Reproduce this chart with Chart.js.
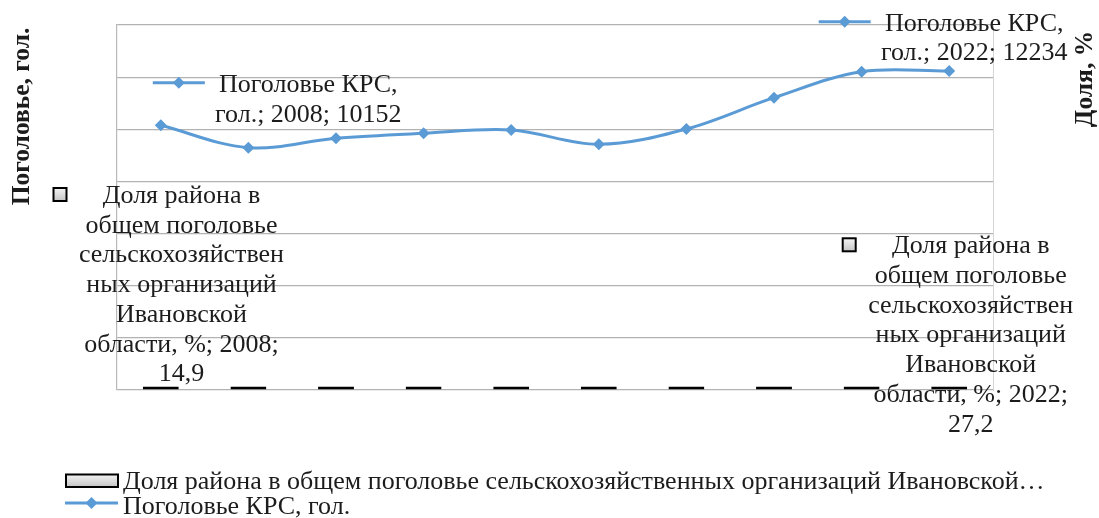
<!DOCTYPE html>
<html>
<head>
<meta charset="utf-8">
<script src="https://cdn.jsdelivr.net/npm/chart.js@4/dist/chart.umd.min.js"></script>
<style>
  html, body { margin: 0; padding: 0; background: #ffffff; }
  canvas { display: block; }
</style>
</head>
<body>
<canvas id="c" width="1099" height="518"></canvas>
<script>
// ---- data ----
const categories = ['2008', '2014', '2015', '2016', '2017', '2018', '2019', '2020', '2021', '2022'];
const herdValues = [10152, 9294, 9654, 9846, 9973, 9424, 10011, 11212, 12209, 12234];
const shareValues = [14.9, 16.2, 17.8, 18.5, 19.6, 19.1, 20.8, 23.4, 26.1, 27.2];
const yMin = 0;
const yMax = 14000;
const yStep = 2000;
const herdName = 'Поголовье КРС, гол.';
const shareName = 'Доля района в общем поголовье сельскохозяйственных организаций Ивановской области, %';
const shareLegendText = 'Доля района в общем поголовье сельскохозяйственных организаций Ивановской…';
const yTitle = 'Поголовье, гол.';
const y2Title = 'Доля, %';
const herdLabelHead = 'Поголовье КРС,';
const herdLabelUnit = 'гол.';
const shareLabelHead = ['Доля района в', 'общем поголовье', 'сельскохозяйствен', 'ных организаций', 'Ивановской', 'области, %;'];

const BLUE = '#5b9bd5';
const TEXT = '#1c1c1c';
const FONT = '"Liberation Serif", "Times New Roman", serif';

function fmt(v) { return String(v).replace('.', ','); }

function grayGrad(ctx, x, y, w, h) {
  const g = ctx.createLinearGradient(0, y, 0, y + h);
  g.addColorStop(0, '#f4f4f4');
  g.addColorStop(1, '#c4c4c4');
  return g;
}

function drawDiamond(ctx, x, y, r) {
  ctx.beginPath();
  ctx.moveTo(x, y - r);
  ctx.lineTo(x + r, y);
  ctx.lineTo(x, y + r);
  ctx.lineTo(x - r, y);
  ctx.closePath();
  ctx.fill();
}

function drawLineKey(ctx, x1, x2, y) {
  ctx.save();
  ctx.strokeStyle = BLUE;
  ctx.fillStyle = BLUE;
  ctx.lineWidth = 3;
  ctx.beginPath();
  ctx.moveTo(x1, y);
  ctx.lineTo(x2, y);
  ctx.stroke();
  drawDiamond(ctx, (x1 + x2) / 2, y, 6);
  ctx.restore();
}

function drawBoxKey(ctx, x, y, w, h) {
  ctx.save();
  ctx.fillStyle = grayGrad(ctx, x, y, w, h);
  ctx.fillRect(x, y, w, h);
  ctx.strokeStyle = '#000';
  ctx.lineWidth = 2;
  ctx.strokeRect(x, y, w, h);
  ctx.restore();
}

const decorPlugin = {
  id: 'decor',
  afterDraw(chart) {
    const ctx = chart.ctx;
    const area = chart.chartArea;
    const barMeta = chart.getDatasetMeta(0);
    const lineMeta = chart.getDatasetMeta(1);
    const last = categories.length - 1;
    const lh = 29.7;

    ctx.save();
    ctx.font = '26px ' + FONT;
    ctx.fillStyle = TEXT;
    ctx.textAlign = 'center';
    ctx.textBaseline = 'alphabetic';

    // line data labels (first and last)
    const lineLabels = [
      { i: 0, dx: 147.5, dy: -33.5 },
      { i: last, dx: 25, dy: -40.3 }
    ];
    lineLabels.forEach(l => {
      const p = lineMeta.data[l.i];
      const tx = p.x + l.dx;
      const by = p.y + l.dy;
      ctx.fillStyle = TEXT;
      ctx.fillText(herdLabelHead, tx, by);
      ctx.fillText(herdLabelUnit + '; ' + categories[l.i] + '; ' + herdValues[l.i], tx, by + lh);
      drawLineKey(ctx, tx - 155.5, tx - 103.5, by - 9);
    });

    // bar data labels (first and last)
    const barLabels = [
      { i: 0, dx: 20.7, dy: -187 },
      { i: last, dx: 21.5, dy: -136.7 }
    ];
    barLabels.forEach(l => {
      const p = barMeta.data[l.i];
      const tx = p.x + l.dx;
      const by = area.bottom + l.dy;
      const lines = shareLabelHead.slice();
      lines[lines.length - 1] = lines[lines.length - 1] + ' ' + categories[l.i] + ';';
      lines.push(fmt(shareValues[l.i]));
      ctx.fillStyle = TEXT;
      lines.forEach((t, k) => ctx.fillText(t, tx, by + k * lh));
      drawBoxKey(ctx, tx - 128, by - 15, 13, 13);
    });

    // axis titles
    ctx.font = 'bold 25.5px ' + FONT;
    ctx.fillStyle = TEXT;
    ctx.textAlign = 'center';
    ctx.save();
    ctx.translate(29, 116.5);
    ctx.rotate(-Math.PI / 2);
    ctx.fillText(yTitle, 0, 0);
    ctx.restore();
    ctx.save();
    ctx.translate(1092, 79);
    ctx.rotate(-Math.PI / 2);
    ctx.fillText(y2Title, 0, 0);
    ctx.restore();

    // legend
    ctx.font = '26px ' + FONT;
    ctx.textAlign = 'left';
    drawBoxKey(ctx, 66, 474.5, 52, 12.5);
    ctx.fillStyle = TEXT;
    ctx.fillText(shareLegendText, 123, 488.5);
    drawLineKey(ctx, 65, 118, 503);
    ctx.fillStyle = TEXT;
    ctx.fillText(herdName, 123, 513.5);

    ctx.restore();
  }
};

new Chart(document.getElementById('c'), {
  type: 'bar',
  data: {
    labels: categories,
    datasets: [
      {
        type: 'bar',
        label: shareName,
        data: shareValues,
        yAxisID: 'y',
        backgroundColor: '#d0d0d0',
        borderColor: '#000000',
        borderWidth: 1.75,
        borderSkipped: false,
        minBarLength: 3.5,
        categoryPercentage: 1.0,
        barPercentage: 0.41,
        order: 2
      },
      {
        type: 'line',
        label: herdName,
        data: herdValues,
        yAxisID: 'y',
        borderColor: BLUE,
        backgroundColor: BLUE,
        borderWidth: 3,
        tension: 0.35,
        pointStyle: 'rectRot',
        pointRadius: 6,
        pointBorderWidth: 0,
        pointBackgroundColor: BLUE,
        fill: false,
        order: 1
      }
    ]
  },
  options: {
    responsive: false,
    animation: false,
    events: [],
    layout: { padding: { left: 117, right: 106, top: 25, bottom: 128 } },
    plugins: {
      legend: { display: false },
      tooltip: { enabled: false },
      title: { display: false }
    },
    scales: {
      x: {
        type: 'category',
        display: false,
        offset: true
      },
      y: {
        position: 'left',
        min: yMin,
        max: yMax,
        ticks: { display: false, stepSize: yStep },
        grid: { color: '#b2b2b2', lineWidth: 1.2, drawTicks: false },
        border: { display: true, color: '#b8b8b8', width: 1.2 }
      },
      y2: {
        position: 'right',
        display: true,
        min: 0,
        max: 1,
        ticks: { display: false },
        grid: { display: false, drawTicks: false },
        border: { display: true, color: '#d6d6d6', width: 1 }
      }
    }
  },
  plugins: [decorPlugin]
});
</script>
</body>
</html>
